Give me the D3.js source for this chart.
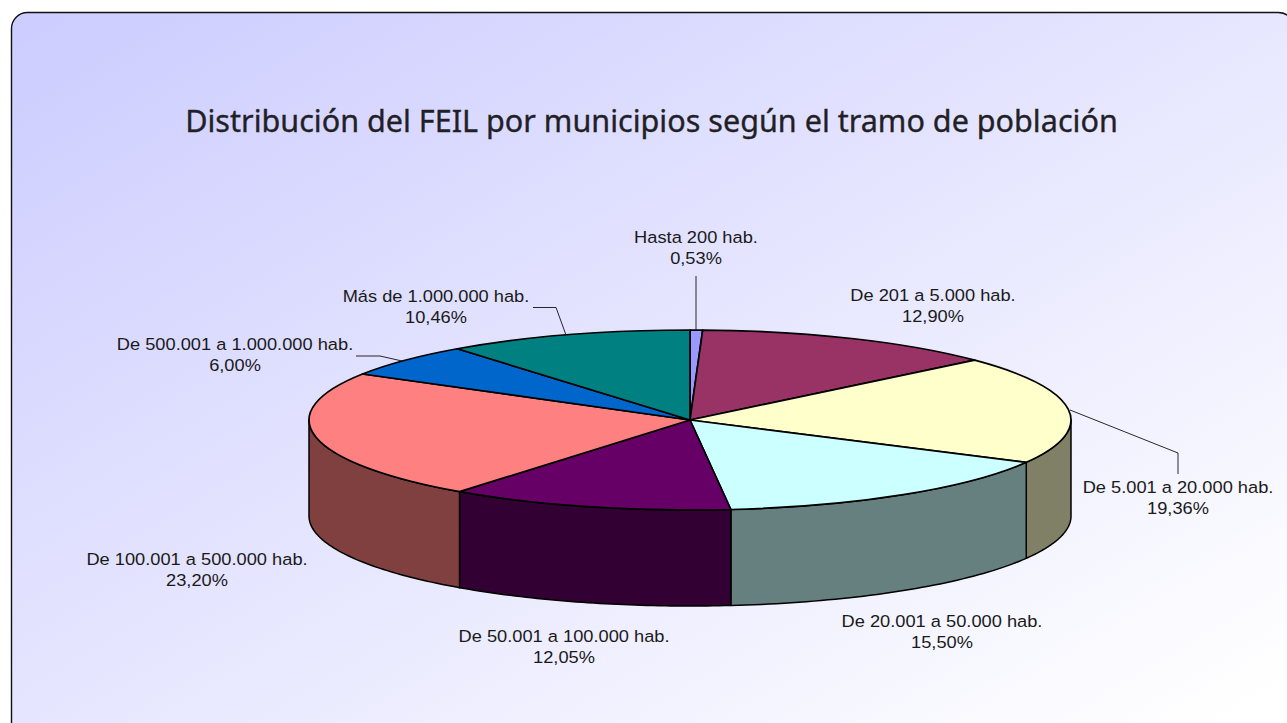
<!DOCTYPE html>
<html><head><meta charset="utf-8">
<script src="https://cdn.jsdelivr.net/npm/d3@7/dist/d3.min.js"></script>
<style>html,body{margin:0;padding:0;background:#fff;overflow:hidden}svg{display:block}</style>
</head><body><div id="c"></div>
<script>
const categories = ["Hasta 200 hab.","De 201 a 5.000 hab.","De 5.001 a 20.000 hab.","De 20.001 a 50.000 hab.","De 50.001 a 100.000 hab.","De 100.001 a 500.000 hab.","De 500.001 a 1.000.000 hab.","Más de 1.000.000 hab."];
const values = [0.53,12.90,19.36,15.50,12.05,23.20,6.00,10.46];
const valueLabels = ["0,53%","12,90%","19,36%","15,50%","12,05%","23,20%","6,00%","10,46%"];
const topColors = ["#9999ff","#993366","#ffffcc","#ccffff","#660066","#ff8080","#0066cc","#008080"];
const sideColors = ["#4d4d80","#4d1a33","#808066","#668080","#330033","#804040","#003366","#004040"];
const labelPos = [[696,243],[933,301],[1178,493],[942,627],[564,642],[197,565],[235,350],[436,302]];
const leaders = [[[696,276],[696,331]],[],[[1070,410],[1178,453],[1178,474]],[],[],[],[[356,356],[380,356],[402,361]],[[533,307.5],[556,307.5],[566,335]]];
const title = "Distribución del FEIL por municipios según el tramo de población";

const W=1287,H=723,cx=690,cy=420,rx=381,ry=90,depth=96;
const svg=d3.select("#c").append("svg").attr("width",W).attr("height",H);
const grad=svg.append("defs").append("linearGradient").attr("id","bg").attr("gradientUnits","userSpaceOnUse")
 .attr("x1",12).attr("y1",12).attr("x2",640).attr("y2",1070);
grad.append("stop").attr("offset",0).attr("stop-color","#ccccff");
grad.append("stop").attr("offset",1).attr("stop-color","#ffffff");
svg.append("rect").attr("x",11.5).attr("y",12.5).attr("width",1283).attr("height",726).attr("rx",16)
 .attr("fill","url(#bg)").attr("stroke","#111").attr("stroke-width",1.4);

svg.append("text").attr("x",651.5).attr("y",132).attr("text-anchor","middle")
 .attr("font-family","Noto Sans").attr("font-size",30.55).attr("fill","#231f26")
 .attr("stroke","#231f26").attr("stroke-width",0.35).text(title);

const arcs=d3.pie().sort(null).value(d=>d)(values);
const px=a=>cx+rx*Math.sin(a), py=(a,o=0)=>cy-ry*Math.cos(a)+o;
const stroke="#000";
const lo=Math.PI/2, hi=3*Math.PI/2;
const wall=d=>{
  const a0=Math.max(d.startAngle,lo),a1=Math.min(d.endAngle,hi);
  if(a1<=a0) return null;
  const p=d3.path();
  const N=48, ts=d3.range(N+1).map(i=>a0+(a1-a0)*i/N);
  ts.forEach((t,i)=>i?p.lineTo(px(t),py(t)):p.moveTo(px(t),py(t)));
  ts.slice().reverse().forEach(t=>p.lineTo(px(t),py(t,depth)));
  p.closePath();
  return p.toString();
};
svg.append("g").selectAll("path").data(arcs.filter(wall)).join("path")
 .attr("d",wall).attr("fill",d=>sideColors[d.index]).attr("stroke",stroke).attr("stroke-width",1.5).attr("stroke-linejoin","round");

const arc=d3.arc().innerRadius(0).outerRadius(rx);
svg.append("g").attr("transform",`translate(${cx},${cy}) scale(1,${ry/rx})`)
 .selectAll("path").data(arcs).join("path").attr("d",arc)
 .attr("fill",d=>topColors[d.index]).attr("stroke",stroke).attr("stroke-width",1.7)
 .attr("vector-effect","non-scaling-stroke").attr("stroke-linejoin","round");

const line=d3.line();
svg.append("g").selectAll("path").data(leaders.filter(l=>l.length)).join("path")
 .attr("d",line).attr("fill","none").attr("stroke","#111").attr("stroke-width",0.9);

const lab=svg.append("g").attr("font-family","Liberation Sans").attr("font-size",16.3).attr("fill","#1a1a1a").attr("text-anchor","middle");
const stretch=1.12;
categories.forEach((c,i)=>{
  const [x,y]=labelPos[i];
  lab.append("text").attr("transform",`translate(${x},${y}) scale(${stretch},1)`).text(c);
  lab.append("text").attr("transform",`translate(${x},${y+21}) scale(${stretch},1)`).text(valueLabels[i]);
});
</script></body></html>
